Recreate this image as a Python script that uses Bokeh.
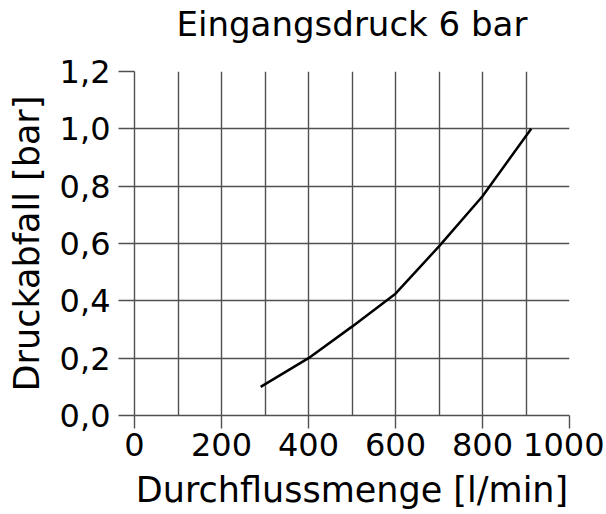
from bokeh.plotting import figure
from bokeh.models import Range1d, FixedTicker, LinearAxis
from bokeh.embed import file_html
from bokeh.resources import INLINE

# Data
flow = [290, 400, 500, 600, 700, 800, 912]            # l/min
drop = [0.10, 0.20, 0.31, 0.425, 0.59, 0.765, 1.00]   # bar

x_ticks = [0, 200, 400, 600, 800, 1000]
x_tick_labels = ["0", "200", "400", "600", "800", "1000"]
x_grid = [100, 200, 300, 400, 500, 600, 700, 800, 900, 1000]
y_ticks = [0, 0.2, 0.4, 0.6, 0.8, 1.0, 1.2]
y_tick_labels = ["0,0", "0,2", "0,4", "0,6", "0,8", "1,0", "1,2"]

title_text = "Eingangsdruck 6 bar"
x_label = "Durchflussmenge [l/min]"
y_label = "Druckabfall [bar]"

FONT = "DejaVu Sans"
GRID = "#505050"

p = figure(width=604, height=512, output_backend="svg", toolbar_location=None,
           x_range=Range1d(0, 1000), y_range=Range1d(0, 1.2),
           min_border_left=134, min_border_right=35,
           min_border_top=71, min_border_bottom=96)
p.outline_line_color = None
p.background_fill_color = "white"
p.border_fill_color = "white"

bottom = p.below[0]
left = p.left[0]

for ax in (bottom, left):
    ax.axis_line_color = GRID
    ax.axis_line_width = 1.4
    ax.major_tick_line_color = GRID
    ax.major_tick_line_width = 1.4
    ax.major_tick_in = 0
    ax.minor_tick_line_color = None
    ax.major_label_text_font = FONT
    ax.major_label_text_font_size = "32px"
    ax.major_label_text_color = "black"
    ax.axis_label_text_font = FONT
    ax.axis_label_text_font_size = "35px"
    ax.axis_label_text_font_style = "normal"
    ax.axis_label_text_color = "black"

bottom.ticker = FixedTicker(ticks=x_ticks)
bottom.major_label_overrides = dict(zip(x_ticks, x_tick_labels))
bottom.major_tick_out = 13
bottom.axis_label = x_label
bottom.major_label_standoff = 4
bottom.axis_label_standoff = 11

left.ticker = FixedTicker(ticks=y_ticks)
left.major_label_overrides = dict(zip(y_ticks, y_tick_labels))
left.major_tick_out = 16
left.axis_label = y_label
left.major_label_standoff = 8
left.axis_label_standoff = 10

p.xgrid.ticker = FixedTicker(ticks=x_grid)
p.ygrid.ticker = FixedTicker(ticks=y_ticks[1:])
for g in (p.xgrid[0], p.ygrid[0]):
    g.grid_line_color = GRID
    g.grid_line_width = 1.4
    g.grid_line_alpha = 1.0

# Title drawn as the label of a bare axis above the frame
top = LinearAxis(ticker=FixedTicker(ticks=[]), axis_label=title_text,
                 axis_line_color=None, major_tick_line_color=None,
                 minor_tick_line_color=None, major_tick_out=0, major_tick_in=0,
                 major_label_text_font_size="0px", major_label_standoff=0,
                 axis_label_standoff=28, axis_label_text_font=FONT,
                 axis_label_text_font_size="34px",
                 axis_label_text_font_style="normal",
                 axis_label_text_color="black")
p.add_layout(top, "above")

p.line(flow, drop, line_color="black", line_width=2.5)

open("out.html", "w").write(file_html(p, INLINE))
